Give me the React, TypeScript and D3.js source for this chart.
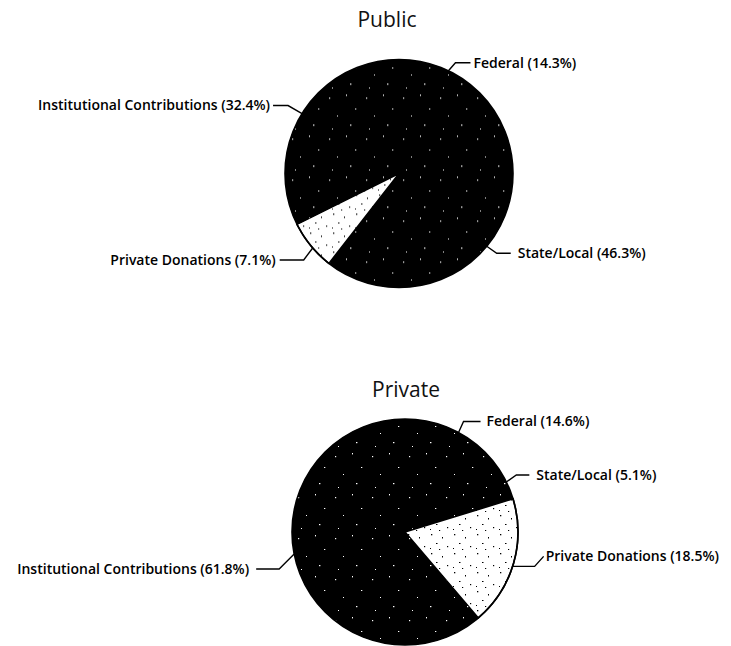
import React from "react";
import * as d3 from "d3";

// Slice categories, shared by both pies (clockwise from 12 o'clock)
const sliceNames = ["Federal", "State/Local", "Private Donations", "Institutional Contributions"];
// Percent shares per sector
const publicShares = [14.3, 46.3, 7.1, 32.4];
const privateShares = [14.6, 5.1, 18.5, 61.8];
const chartTitles = ["Public", "Private"];

const W = 731;
const H = 646;
const LABEL_FONT = "'Open Sans', Lato, sans-serif";

type Callout = { nudge: number; path: [number, number][]; gap: number };

// Leader-line shapes, relative to the point where each leader meets the rim
const publicCallouts: Callout[] = [
  { nudge: 0, path: [[7, -8], [22, -8]], gap: 3 },
  { nudge: -5, path: [[10, 7], [24, 7]], gap: 7 },
  { nudge: -1.5, path: [[-9, 12], [-33, 12]], gap: 4 },
  { nudge: 0, path: [[-14, -8], [-29, -8]], gap: 3 },
];
const privateCallouts: Callout[] = [
  { nudge: 0, path: [[5, -11], [22, -11]], gap: 6 },
  { nudge: 0, path: [[10, -7], [23, -7]], gap: 7 },
  { nudge: 1.5, path: [[22, 0], [31, -10]], gap: 2 },
  { nudge: 8, path: [[-15, 15], [-38, 15]], gap: 7 },
];

type PieSpec = {
  title: string;
  values: number[];
  cx: number;
  cy: number;
  r: number;
  titleX: number;
  titleY: number;
  start: number;
  callouts: Callout[];
};

const pies: PieSpec[] = [
  { title: chartTitles[0], values: publicShares, cx: 399, cy: 173.5, r: 114, titleX: 387, titleY: 27, start: 0, callouts: publicCallouts },
  { title: chartTitles[1], values: privateShares, cx: 405, cy: 532, r: 113, titleX: 406, titleY: 397, start: 2, callouts: privateCallouts },
];

const toRad = (deg: number) => (deg * Math.PI) / 180;

function Pie({ spec }: { spec: PieSpec }) {
  const layout = d3
    .pie<number>()
    .sort(null)
    .value((d) => d)
    .startAngle(toRad(spec.start))
    .endAngle(toRad(spec.start) + 2 * Math.PI);
  const arcs = layout(spec.values);
  const arc = d3.arc<d3.PieArcDatum<number>>().innerRadius(0).outerRadius(spec.r);
  const line = d3.line();

  return (
    <g>
      <text
        x={spec.titleX}
        y={spec.titleY}
        textAnchor="middle"
        fontFamily={LABEL_FONT}
        fontSize={21}
        fill="#111"
      >
        {spec.title}
      </text>
      <g transform={`translate(${spec.cx},${spec.cy})`}>
        {/* dark base disc so adjacent dark slices show no seams */}
        <circle r={spec.r} fill="#000" />
        {arcs.map((a, i) => {
          const isDonation = sliceNames[i] === "Private Donations";
          return (
            <path
              key={i}
              d={arc(a) || ""}
              fill={isDonation ? "url(#speckleLight)" : "url(#speckleDark)"}
              stroke={isDonation ? "#000" : "none"}
              strokeWidth={1.6}
            />
          );
        })}
        <circle r={spec.r} fill="none" stroke="#000" strokeWidth={1.6} />
      </g>
      {arcs.map((a, i) => {
        const c = spec.callouts[i];
        const mid = (a.startAngle + a.endAngle) / 2 + toRad(c.nudge);
        const rx = spec.cx + spec.r * Math.sin(mid);
        const ry = spec.cy - spec.r * Math.cos(mid);
        const pts: [number, number][] = [[rx, ry], ...c.path.map(([dx, dy]) => [rx + dx, ry + dy] as [number, number])];
        const end = pts[pts.length - 1];
        const right = end[0] > spec.cx;
        return (
          <g key={`lab-${i}`}>
            <path d={line(pts) || ""} fill="none" stroke="#000" strokeWidth={1.4} />
            <text
              x={right ? end[0] + c.gap : end[0] - c.gap}
              y={end[1]}
              dy="0.35em"
              textAnchor={right ? "start" : "end"}
              fontFamily={LABEL_FONT}
              fontWeight={600}
              fontSize={14}
              fill="#000"
            >
              {`${sliceNames[i]} (${spec.values[i].toFixed(1)}%)`}
            </text>
          </g>
        );
      })}
    </g>
  );
}

export default function App() {
  return (
    <svg
      width={W}
      height={H}
      viewBox={`0 0 ${W} ${H}`}
      style={{ position: "absolute", left: 0, top: 0, background: "#fff" }}
    >
      <defs>
        {/* sparse white grain on the dark slices */}
        <pattern id="speckleDark" width={37} height={41} patternUnits="userSpaceOnUse">
          <rect width={37} height={41} fill="#000" />
          <rect x={4} y={6} width={1.2} height={1.2} fill="#fff" />
          <rect x={21} y={3} width={1} height={1.4} fill="#fff" />
          <rect x={30} y={17} width={1.3} height={1} fill="#fff" />
          <rect x={12} y={24} width={1} height={1} fill="#fff" />
          <rect x={25} y={33} width={1.4} height={1.2} fill="#fff" />
          <rect x={7} y={37} width={1} height={1} fill="#fff" />
        </pattern>
        {/* black grain on the light slice */}
        <pattern id="speckleLight" width={23} height={19} patternUnits="userSpaceOnUse">
          <rect width={23} height={19} fill="#fff" />
          <rect x={3} y={2} width={1.3} height={1.3} fill="#000" />
          <rect x={14} y={5} width={1} height={1.5} fill="#000" />
          <rect x={8} y={11} width={1.5} height={1} fill="#000" />
          <rect x={19} y={14} width={1.2} height={1.2} fill="#000" />
          <rect x={2} y={16} width={1} height={1} fill="#000" />
          <rect x={11} y={17} width={1.2} height={1} fill="#000" />
        </pattern>
      </defs>
      {pies.map((p) => (
        <Pie key={p.title} spec={p} />
      ))}
    </svg>
  );
}
